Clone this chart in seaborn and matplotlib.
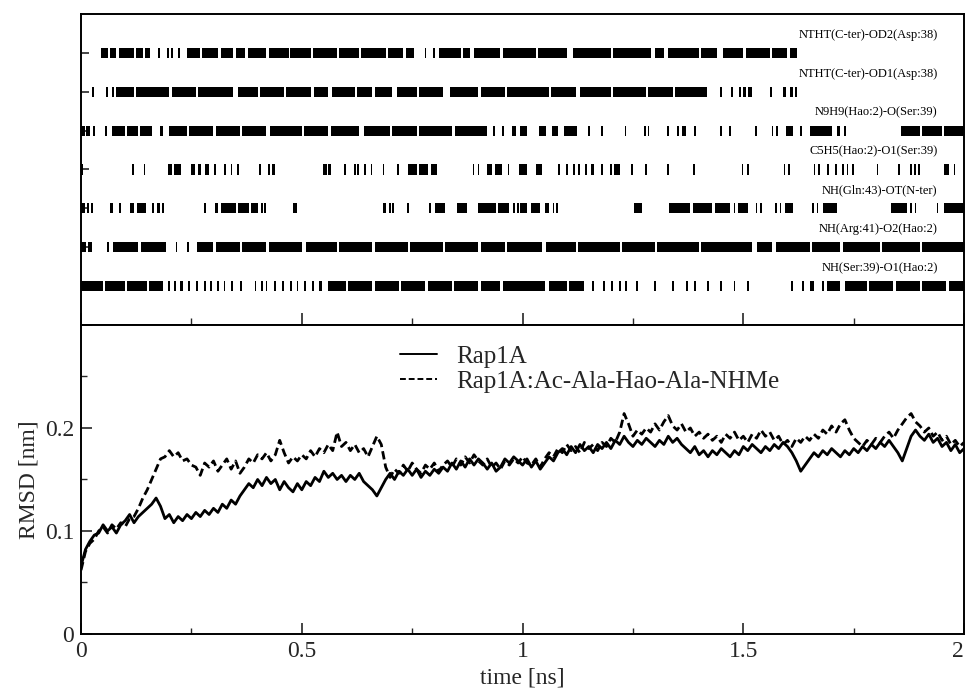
import numpy as np
import pandas as pd
import matplotlib
matplotlib.use("Agg")
import matplotlib.pyplot as plt
from matplotlib.ticker import MultipleLocator, FixedLocator
import seaborn as sns

# ---------------- data ----------------
series_names = ["Rap1A", "Rap1A:Ac-Ala-Hao-Ala-NHMe"]

rmsd_rap1a = [
    0.066, 0.082, 0.090, 0.096, 0.098, 0.106, 0.100, 0.104, 0.098, 0.106,
    0.110, 0.116, 0.108, 0.114, 0.118, 0.122, 0.126, 0.132, 0.124, 0.112,
    0.116, 0.108, 0.114, 0.110, 0.116, 0.112, 0.118, 0.114, 0.120, 0.116,
    0.122, 0.118, 0.126, 0.122, 0.130, 0.126, 0.134, 0.140, 0.146, 0.142,
    0.150, 0.144, 0.152, 0.146, 0.150, 0.140, 0.148, 0.142, 0.138, 0.146,
    0.140, 0.148, 0.144, 0.152, 0.148, 0.158, 0.152, 0.156, 0.150, 0.154,
    0.148, 0.154, 0.150, 0.156, 0.148, 0.144, 0.140, 0.134, 0.142, 0.150,
    0.156, 0.150, 0.158, 0.154, 0.160, 0.154, 0.160, 0.152, 0.158, 0.154,
    0.160, 0.156, 0.162, 0.158, 0.166, 0.160, 0.168, 0.162, 0.170, 0.164,
    0.170, 0.166, 0.160, 0.166, 0.158, 0.162, 0.170, 0.166, 0.172, 0.168,
    0.164, 0.170, 0.162, 0.168, 0.160, 0.166, 0.172, 0.168, 0.176, 0.180,
    0.174, 0.182, 0.176, 0.184, 0.178, 0.182, 0.176, 0.184, 0.180, 0.186,
    0.180, 0.188, 0.184, 0.192, 0.186, 0.182, 0.188, 0.184, 0.190, 0.186,
    0.182, 0.188, 0.184, 0.192, 0.186, 0.190, 0.184, 0.180, 0.176, 0.182,
    0.174, 0.178, 0.172, 0.178, 0.174, 0.180, 0.176, 0.172, 0.178, 0.174,
    0.182, 0.178, 0.184, 0.180, 0.176, 0.182, 0.178, 0.184, 0.180, 0.186,
    0.182, 0.176, 0.168, 0.158, 0.164, 0.170, 0.176, 0.172, 0.178, 0.174,
    0.180, 0.176, 0.172, 0.178, 0.174, 0.180, 0.176, 0.182, 0.178, 0.184,
    0.180, 0.186, 0.182, 0.188, 0.182, 0.176, 0.168, 0.180, 0.192, 0.198,
    0.192, 0.188, 0.194, 0.186, 0.190, 0.182, 0.186, 0.178, 0.184, 0.176,
    0.180,
]

rmsd_complex = [
    0.062, 0.080, 0.088, 0.092, 0.100, 0.104, 0.098, 0.106, 0.102, 0.108,
    0.104, 0.112, 0.114, 0.122, 0.132, 0.140, 0.150, 0.160, 0.170, 0.172,
    0.178, 0.172, 0.176, 0.168, 0.170, 0.164, 0.162, 0.154, 0.166, 0.162,
    0.168, 0.158, 0.164, 0.170, 0.160, 0.168, 0.156, 0.162, 0.170, 0.166,
    0.174, 0.170, 0.176, 0.168, 0.174, 0.188, 0.176, 0.166, 0.172, 0.168,
    0.174, 0.170, 0.178, 0.172, 0.180, 0.176, 0.184, 0.178, 0.196, 0.182,
    0.186, 0.178, 0.184, 0.176, 0.180, 0.172, 0.182, 0.192, 0.184, 0.162,
    0.152, 0.160, 0.156, 0.164, 0.158, 0.166, 0.160, 0.156, 0.164, 0.160,
    0.166, 0.158, 0.164, 0.168, 0.162, 0.170, 0.164, 0.172, 0.166, 0.174,
    0.168, 0.164, 0.170, 0.162, 0.166, 0.160, 0.168, 0.164, 0.170, 0.166,
    0.172, 0.166, 0.164, 0.170, 0.162, 0.170, 0.176, 0.172, 0.180, 0.176,
    0.184, 0.178, 0.182, 0.176, 0.186, 0.180, 0.184, 0.178, 0.186, 0.182,
    0.190, 0.186, 0.196, 0.214, 0.204, 0.192, 0.198, 0.194, 0.200, 0.196,
    0.204, 0.198, 0.206, 0.212, 0.202, 0.198, 0.204, 0.196, 0.200, 0.192,
    0.196, 0.190, 0.194, 0.188, 0.192, 0.186, 0.194, 0.190, 0.196, 0.188,
    0.192, 0.186, 0.194, 0.190, 0.198, 0.192, 0.196, 0.188, 0.192, 0.184,
    0.188, 0.182, 0.190, 0.186, 0.192, 0.188, 0.194, 0.190, 0.198, 0.194,
    0.202, 0.196, 0.204, 0.208, 0.198, 0.190, 0.186, 0.182, 0.188, 0.184,
    0.190, 0.186, 0.192, 0.196, 0.190, 0.198, 0.204, 0.210, 0.214, 0.206,
    0.202, 0.196, 0.200, 0.192, 0.196, 0.188, 0.192, 0.184, 0.188, 0.182,
    0.186,
]

hbond_labels = [
    "NTHT(C-ter)-OD2(Asp:38)",
    "NTHT(C-ter)-OD1(Asp:38)",
    "N9H9(Hao:2)-O(Ser:39)",
    "C5H5(Hao:2)-O1(Ser:39)",
    "NH(Gln:43)-OT(N-ter)",
    "NH(Arg:41)-O2(Hao:2)",
    "NH(Ser:39)-O1(Hao:2)",
]

# presence of each hydrogen bond in time [ns]: [start, end] blocks or single events
hb_asp38_od2 = [
    [0.046, 0.060], [0.065, 0.080], [0.085, 0.120], [0.125, 0.140], [0.146, 0.156],
    0.177, 0.197, 0.206, 0.222,
    [0.240, 0.270], [0.275, 0.310], [0.318, 0.345], [0.350, 0.372],
    [0.378, 0.420], [0.425, 0.470], [0.474, 0.520], [0.525, 0.580],
    [0.585, 0.630], [0.635, 0.690], [0.695, 0.730], [0.735, 0.755],
    0.780, 0.800, [0.810, 0.860], [0.865, 0.880], [0.890, 0.950], [0.955, 1.000],
    [1.000, 1.030], [1.035, 1.100], [1.115, 1.200], [1.205, 1.290], [1.300, 1.320],
    [1.330, 1.400], [1.405, 1.440], [1.455, 1.500], [1.505, 1.560], [1.565, 1.600],
    [1.605, 1.622],
]
hb_asp38_od1 = [
    0.027, [0.057, 0.062], [0.070, 0.075], [0.080, 0.120], [0.125, 0.200],
    [0.205, 0.260], [0.265, 0.345], [0.355, 0.400], [0.405, 0.460], [0.465, 0.520],
    [0.528, 0.560], [0.568, 0.620], [0.625, 0.660], [0.665, 0.705], [0.715, 0.760],
    [0.765, 0.820], [0.835, 0.900], [0.905, 0.960], [0.965, 1.060], [1.065, 1.120],
    [1.130, 1.200], [1.205, 1.280], [1.285, 1.340], [1.345, 1.418],
    1.449, 1.475, [1.490, 1.495], [1.500, 1.505], [1.510, 1.520], 1.562,
    [1.590, 1.597], [1.605, 1.612], [1.618, 1.622],
]
hb_ser39_o = [
    [0.000, 0.008], [0.012, 0.020], [0.026, 0.031], 0.057,
    [0.069, 0.100], [0.104, 0.130], [0.134, 0.160], [0.178, 0.186],
    [0.200, 0.240], [0.244, 0.300], [0.305, 0.360], [0.365, 0.420], [0.428, 0.500],
    [0.505, 0.560], [0.565, 0.630], [0.640, 0.700], [0.705, 0.760], [0.765, 0.840],
    [0.848, 0.900], [0.900, 0.920], 0.935, 0.955, [0.975, 0.985], [0.995, 1.010],
    [1.037, 1.052], [1.067, 1.080], [1.094, 1.124], 1.150, 1.180, 1.233,
    1.277, 1.285, 1.330, [1.350, 1.355], [1.360, 1.370], 1.390, 1.450, 1.470,
    1.528, 1.566, 1.577, [1.597, 1.612], 1.630, [1.650, 1.700], [1.713, 1.720],
    [1.728, 1.733], [1.857, 1.900], [1.905, 1.950], [1.955, 2.000],
]
hb_ser39_o1 = [
    0.002, 0.118, 0.144, [0.197, 0.205], [0.210, 0.227], [0.250, 0.258], [0.265, 0.272],
    [0.280, 0.290], 0.303, 0.326, 0.341, 0.356, 0.405, 0.425, [0.432, 0.440],
    [0.549, 0.556], [0.560, 0.567], 0.598, 0.620, 0.628, 0.643, 0.658, 0.685, 0.718,
    [0.741, 0.760], [0.765, 0.785], [0.792, 0.806], 0.889, 0.900,
    [0.919, 0.930], [0.938, 0.953], 0.968, [0.991, 1.010], [1.030, 1.044],
    1.082, 1.100, 1.116, 1.128, 1.143, [1.154, 1.162], 1.180, 1.200, [1.208, 1.220],
    1.248, 1.279, 1.330, 1.388, 1.498, 1.510, 1.593, 1.604, 1.661, 1.672, 1.691,
    1.710, 1.725, 1.736, 1.748, 1.804, 1.853, 1.879, 1.889, 1.898,
    [1.955, 1.965], 1.978,
]
hb_gln43_ot = [
    [0.000, 0.010], 0.016, 0.024, [0.065, 0.072], 0.088, [0.110, 0.120], [0.126, 0.148],
    0.163, [0.172, 0.178], 0.186, 0.280, [0.303, 0.310], [0.318, 0.350],
    [0.356, 0.380], [0.386, 0.400], 0.410, 0.416, [0.480, 0.488],
    [0.685, 0.690], 0.700, 0.707, 0.741, 0.790, [0.802, 0.825], [0.851, 0.874],
    [0.900, 0.940], [0.945, 0.970], 0.980, 0.990, [0.995, 1.010], [1.020, 1.040],
    [1.050, 1.060], 1.070, 1.078, [1.252, 1.270], [1.332, 1.380], [1.386, 1.430],
    [1.436, 1.470], 1.480, [1.487, 1.510], 1.530, 1.540, 1.574, 1.584, [1.595, 1.612],
    1.657, 1.668, [1.680, 1.713], [1.834, 1.870], 1.880, 1.890, 1.940,
    [1.955, 2.000],
]
hb_arg41_o2 = [
    [0.000, 0.012], [0.016, 0.024], 0.061, [0.073, 0.130], [0.135, 0.193],
    0.216, 0.243, [0.262, 0.300], [0.305, 0.360], [0.365, 0.420], [0.425, 0.500],
    [0.510, 0.580], [0.585, 0.660], [0.665, 0.740], [0.745, 0.820], [0.825, 0.900],
    [0.905, 0.960], [0.965, 1.045], [1.052, 1.120], [1.125, 1.220], [1.226, 1.300],
    [1.305, 1.400], [1.405, 1.520], [1.530, 1.565], [1.575, 1.650], [1.655, 1.720],
    [1.725, 1.810], [1.815, 1.900], [1.905, 2.000],
]
hb_hao2_o1 = [
    [0.000, 0.050], [0.054, 0.100], [0.104, 0.150], [0.155, 0.185],
    0.200, 0.212, [0.225, 0.230], 0.245, 0.262, 0.280, 0.295, 0.310, 0.325,
    [0.340, 0.345], [0.360, 0.365], 0.395, 0.410, 0.420, 0.440, [0.455, 0.460],
    0.475, 0.490, [0.505, 0.510], 0.525, [0.540, 0.545], [0.560, 0.600],
    [0.605, 0.660], [0.665, 0.720], [0.725, 0.780], [0.785, 0.840], [0.845, 0.900],
    [0.905, 0.950], [0.955, 1.050], [1.060, 1.100], [1.105, 1.140], 1.160, 1.185,
    [1.200, 1.205], 1.220, 1.235, 1.260, 1.300, 1.340, [1.370, 1.375], 1.390,
    1.420, 1.450, 1.480, 1.510, 1.610, 1.635, [1.650, 1.660], 1.680,
    [1.690, 1.720], [1.730, 1.780], [1.785, 1.840], [1.845, 1.900], [1.905, 1.960],
    [1.965, 2.000],
]
hbond_rows = [hb_asp38_od2, hb_asp38_od1, hb_ser39_o, hb_ser39_o1,
              hb_gln43_ot, hb_arg41_o2, hb_hao2_o1]

x_ticks = [0, 0.5, 1, 1.5, 2]
x_ticklabels = ["0", "0.5", "1", "1.5", "2"]
y_ticks = [0, 0.1, 0.2, 0.3]
y_ticklabels = ["0", "0.1", "0.2", ""]

# ---------------- style ----------------
sns.set_style("ticks")
plt.rcParams["font.family"] = ["Liberation Serif", "DejaVu Serif"]
plt.rcParams["axes.linewidth"] = 1.4
plt.rcParams["axes.edgecolor"] = "black"

fig = plt.figure(figsize=(9.67, 6.90), dpi=100)
L, R = 0.0838, 0.997
ax_top = fig.add_axes([L, 0.529, R - L, 0.9797 - 0.529])
ax = fig.add_axes([L, 0.0812, R - L, 0.529 - 0.0812])

# ---------------- top panel: H-bond occupancy ----------------
bar_h = 0.26
n_rows = len(hbond_rows)
for i, (items, lab) in enumerate(zip(hbond_rows, hbond_labels)):
    yc = n_rows - i
    spans = []
    for it in items:
        if isinstance(it, (list, tuple)):
            spans.append((it[0], it[1] - it[0]))
        else:
            spans.append((it - 0.002, 0.004))
    ax_top.broken_barh(spans, (yc - bar_h / 2, bar_h), facecolors="black",
                       edgecolors="none")
    ax_top.text(1.94, yc + 0.46, lab, ha="right", va="center", fontsize=9,
                color="black")

ax_top.set_xlim(0, 2)
ax_top.set_ylim(0, n_rows + 1)
ax_top.xaxis.set_major_locator(MultipleLocator(0.5))
ax_top.xaxis.set_minor_locator(MultipleLocator(0.25))
ax_top.yaxis.set_major_locator(FixedLocator(list(range(1, n_rows + 1))))
ax_top.tick_params(axis="x", which="major", direction="in", length=9, width=1.2,
                   labelbottom=False)
ax_top.tick_params(axis="x", which="minor", direction="in", length=5, width=1.0)
ax_top.tick_params(axis="y", which="major", direction="in", length=6, width=1.2,
                   labelleft=False)
for s in ax_top.spines.values():
    s.set_visible(True)

# ---------------- bottom panel: RMSD ----------------
n = len(rmsd_rap1a)
time_ns = np.linspace(0, 2, n)
df = pd.DataFrame({
    "time": np.concatenate([time_ns, time_ns]),
    "RMSD": rmsd_rap1a + rmsd_complex,
    "system": [series_names[0]] * n + [series_names[1]] * n,
})
sns.lineplot(data=df, x="time", y="RMSD", style="system",
             style_order=series_names,
             dashes={series_names[0]: "", series_names[1]: (3, 1.5)},
             color="black", linewidth=2.0, ax=ax, estimator=None)

ax.set_xlim(0, 2)
ax.set_ylim(0, 0.3)
ax.xaxis.set_major_locator(FixedLocator(x_ticks))
ax.set_xticklabels(x_ticklabels)
ax.get_xticklabels()[-1].set_horizontalalignment("right")
ax.xaxis.set_minor_locator(MultipleLocator(0.25))
ax.yaxis.set_major_locator(FixedLocator(y_ticks))
ax.set_yticklabels(y_ticklabels)
ax.yaxis.set_minor_locator(MultipleLocator(0.05))
ax.tick_params(axis="both", which="major", direction="in", length=8, width=1.2,
               labelsize=17, pad=5)
ax.tick_params(axis="both", which="minor", direction="in", length=4, width=1.0)
ax.set_xlabel("time [ns]", fontsize=17, labelpad=4)
ax.set_ylabel("RMSD [nm]", fontsize=17, labelpad=4)
for s in ax.spines.values():
    s.set_visible(True)

handles, labels = ax.get_legend_handles_labels()
for h in handles:
    h.set_linewidth(1.4)
ax.legend(handles, labels, loc="upper left", bbox_to_anchor=(0.361, 0.935),
          frameon=False, fontsize=18, handlelength=1.5, handletextpad=0.75,
          labelspacing=0.12, borderaxespad=0.0, borderpad=0.0)

fig.savefig("out.png", dpi=100)
